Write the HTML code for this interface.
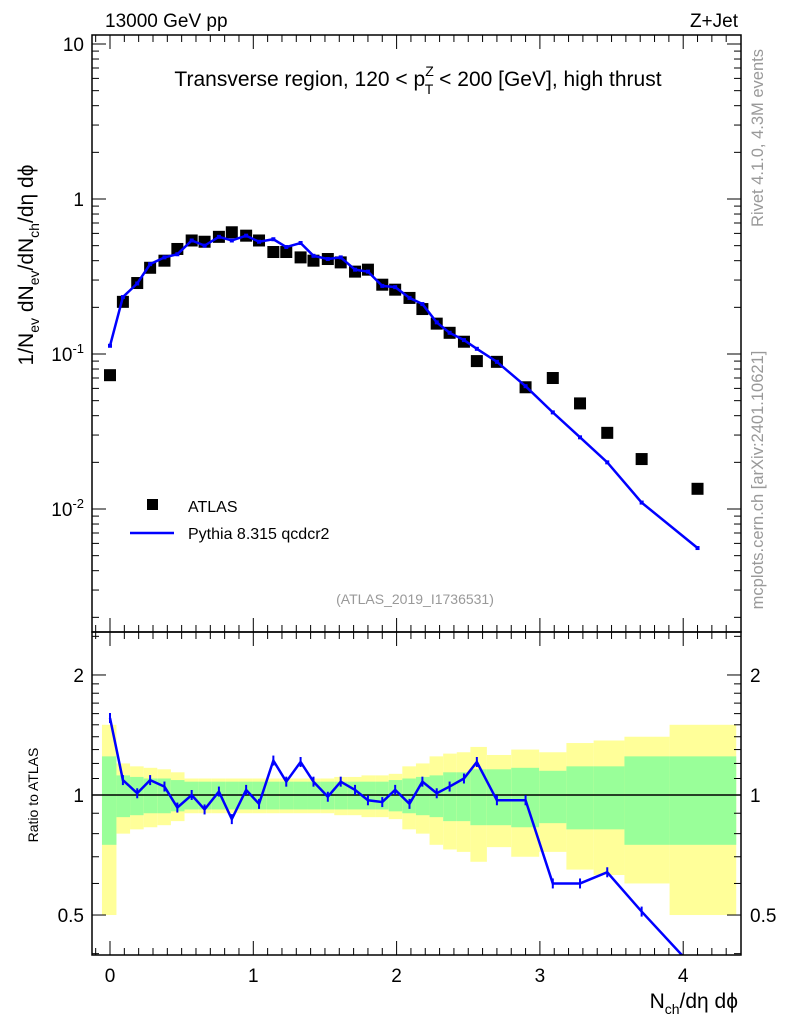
<!DOCTYPE html>
<html><head><meta charset="utf-8"><style>
body{margin:0;background:#fff;}
svg{display:block;font-family:"Liberation Sans",sans-serif;}
</style></head><body>
<svg id="c" width="786" height="1024" viewBox="0 0 786 1024">
<text x="105" y="27" font-size="19">13000 GeV pp</text>
<text x="738" y="27" font-size="19" text-anchor="end">Z+Jet</text>
<text x="418" y="86" font-size="21" text-anchor="middle">Transverse region, 120 &lt; p<tspan font-size="14" dy="-10">Z</tspan><tspan font-size="14" dx="-9" dy="18">T</tspan><tspan dy="-8"> &lt; 200 [GeV], high thrust</tspan></text>
<text transform="translate(763,138) rotate(-90)" font-size="16.5" fill="#999" text-anchor="middle">Rivet 4.1.0, 4.3M events</text>
<text transform="translate(763,480) rotate(-90)" font-size="16.5" fill="#999" text-anchor="middle">mcplots.cern.ch [arXiv:2401.10621]</text>
<text x="415" y="604" font-size="14" fill="#999" text-anchor="middle">(ATLAS_2019_I1736531)</text>
<text transform="translate(33,265) rotate(-90)" font-size="21" text-anchor="middle">1/N<tspan font-size="14" dy="6">ev</tspan><tspan dy="-6"> dN</tspan><tspan font-size="14" dy="6">ev</tspan><tspan dy="-6">/dN</tspan><tspan font-size="14" dy="6">ch</tspan><tspan dy="-6">/dη dϕ</tspan></text>
<text transform="translate(38,795) rotate(-90)" font-size="14" text-anchor="middle">Ratio to ATLAS</text>
<text x="738" y="1008" font-size="21" text-anchor="end">N<tspan font-size="14" dy="6">ch</tspan><tspan dy="-6">/dη dϕ</tspan></text>
<g id="bands"></g><g id="marks"></g><g id="axes"></g>
<g>
<rect x="147" y="499" width="11" height="11" fill="#000"/>
<text x="188" y="512" font-size="16">ATLAS</text>
<line x1="130" y1="533" x2="174" y2="533" stroke="#00f" stroke-width="2.5"/>
<text x="188" y="539" font-size="16">Pythia 8.315 qcdcr2</text>
</g>
</svg>
<script>
const xs=[0,0.09,0.19,0.28,0.38,0.47,0.57,0.66,0.76,0.85,0.95,1.04,1.14,1.23,1.33,1.42,1.52,1.61,1.71,1.80,1.90,1.99,2.09,2.18,2.28,2.37,2.47,2.56,2.70,2.90,3.09,3.28,3.47,3.71,4.10];
const atlas=[0.073,0.217,0.287,0.36,0.40,0.476,0.54,0.53,0.57,0.61,0.58,0.54,0.455,0.455,0.42,0.40,0.41,0.39,0.34,0.35,0.28,0.26,0.23,0.195,0.157,0.137,0.12,0.09,0.089,0.061,0.07,0.048,0.031,0.021,0.0135];
const pythia=[0.113,0.233,0.285,0.38,0.42,0.44,0.54,0.50,0.57,0.54,0.58,0.53,0.55,0.49,0.52,0.43,0.41,0.42,0.35,0.34,0.275,0.27,0.23,0.21,0.16,0.137,0.123,0.108,0.089,0.062,0.042,0.029,0.020,0.011,0.0056];
const ratio=[1.56,1.09,1.01,1.09,1.05,0.93,1.0,0.92,1.02,0.87,1.03,0.95,1.22,1.08,1.21,1.08,0.99,1.08,1.03,0.97,0.96,1.03,0.95,1.08,1.01,1.05,1.10,1.21,0.97,0.97,0.60,0.60,0.64,0.51,0.36];
const greenErr=[0.25,0.12,0.11,0.1,0.1,0.09,0.08,0.08,0.08,0.08,0.08,0.08,0.08,0.08,0.08,0.08,0.08,0.08,0.08,0.08,0.08,0.09,0.1,0.11,0.12,0.14,0.14,0.16,0.16,0.17,0.15,0.18,0.18,0.25,0.25];
const yellowErr=[0.5,0.2,0.18,0.17,0.16,0.14,0.1,0.1,0.1,0.1,0.1,0.1,0.1,0.1,0.1,0.1,0.1,0.11,0.11,0.12,0.12,0.13,0.18,0.2,0.25,0.27,0.28,0.32,0.26,0.3,0.28,0.35,0.37,0.4,0.5];
const NS='http://www.w3.org/2000/svg';
const L=92,R=741,T=35,MB=632,RB=955;
const X=v=>110+143.3*v;
const Y=v=>199-155*Math.log10(v);
const RY=v=>795-398.7*Math.log10(v);
function mk(p,tag,a){const e=document.createElementNS(NS,tag);for(const k in a)e.setAttribute(k,a[k]);p.appendChild(e);return e;}
const bands=document.getElementById('bands'),marks=document.getElementById('marks'),axes=document.getElementById('axes');
const clip=mk(document.getElementById('c'),'clipPath',{id:'rc'});mk(clip,'rect',{x:L,y:MB,width:R-L,height:RB-MB});
bands.setAttribute('clip-path','url(#rc)');
const edges=[];for(let i=0;i<=xs.length;i++){if(i==0)edges.push(-0.056);else if(i==xs.length)edges.push(4.37);else edges.push((xs[i-1]+xs[i])/2);}
for(let i=0;i<xs.length;i++){
 const x1=X(edges[i]),x2=X(edges[i+1]);
 const y=mk(bands,'rect',{x:x1,y:RY(1+yellowErr[i]),width:x2-x1,height:RY(1-yellowErr[i])-RY(1+yellowErr[i]),fill:'#ffff99'});
 
 
 const g=mk(bands,'rect',{x:x1,y:RY(1+greenErr[i]),width:x2-x1,height:RY(1-greenErr[i])-RY(1+greenErr[i]),fill:'#99ff99'});
 
 
}
const one=mk(bands,'line',{x1:L,x2:R,y1:RY(1),y2:RY(1),stroke:'#000','stroke-width':1.5});


for(let i=0;i<xs.length;i++){
 const r=mk(marks,'rect',{x:X(xs[i])-6,y:Y(atlas[i])-6,width:12,height:12,fill:'#000'});
 
 
}
const pl=mk(marks,'polyline',{points:xs.map((v,i)=>X(v)+','+Y(pythia[i])).join(' '),fill:'none',stroke:'#00f','stroke-width':2.5});


for(let i=0;i<xs.length;i++){const m=mk(marks,'rect',{x:X(xs[i])-2,y:Y(pythia[i])-2,width:4,height:4,fill:'#00f'});
 
 }
const rl=mk(marks,'polyline',{points:xs.map((v,i)=>X(v)+','+RY(ratio[i])).join(' '),fill:'none',stroke:'#00f','stroke-width':2.5,'clip-path':'url(#rc)'});


for(let i=0;i<xs.length;i++){if(RY(ratio[i])>RB)continue;const m=mk(marks,'line',{x1:X(xs[i]),x2:X(xs[i]),y1:RY(ratio[i])-5,y2:RY(ratio[i])+5,stroke:'#00f','stroke-width':2});
 
 }
for(const [t,b,n] of [[T,MB,'main-frame'],[MB,RB,'ratio-frame']]){const f=mk(axes,'rect',{x:L,y:t,width:R-L,height:b-t,fill:'none',stroke:'#000','stroke-width':1.5});
 
 }
for(let k=-1;k<=43;k++){const v=k/10;const x=X(v);if(x<L||x>R)continue;const big=k%10==0;const len=big?14:7;
 for(const [t,b] of [[T,MB],[MB,RB]]){mk(axes,'line',{x1:x,x2:x,y1:b,y2:b-len,stroke:'#000'});mk(axes,'line',{x1:x,x2:x,y1:t,y2:t+len,stroke:'#000'});}
 if(big){const tx=mk(axes,'text',{x:x,y:RB+27,'font-size':19,'text-anchor':'middle'});tx.textContent=String(v);
 
 }}
for(let d=-3;d<=1;d++){for(let m=1;m<=9;m++){const v=m*Math.pow(10,d);const y=Y(v);if(y<T||y>MB)continue;const len=m==1?14:7;
 mk(axes,'line',{x1:L,x2:L+len,y1:y,y2:y,stroke:'#000'});mk(axes,'line',{x1:R,x2:R-len,y1:y,y2:y,stroke:'#000'});}}
const ylab=[['10',10],['1',1]];
for(const [s,v] of ylab){const t=mk(axes,'text',{x:84,y:Y(v)+7,'font-size':19,'text-anchor':'end'});t.textContent=s;
 
 }
for(const [e,v] of [['-1',0.1],['-2',0.01]]){const t=mk(axes,'text',{x:84,y:Y(v)+7,'font-size':19,'text-anchor':'end'});
 t.innerHTML='10<tspan font-size="13" dy="-8">'+e+'</tspan>';
 
 }
const rt=[0.4,0.5,0.6,0.7,0.8,0.9,1,1.1,1.2,1.3,1.4,1.5,1.6,1.7,1.8,1.9,2,2.5];
for(const v of rt){const y=RY(v);if(y<MB||y>RB)continue;const big=(v==0.5||v==1||v==2);const len=big?14:7;
 mk(axes,'line',{x1:L,x2:L+len,y1:y,y2:y,stroke:'#000'});mk(axes,'line',{x1:R,x2:R-len,y1:y,y2:y,stroke:'#000'});
 if(big){for(const [xx,an] of [[84,'end'],[750,'start']]){const t=mk(axes,'text',{x:xx,y:y+7,'font-size':19,'text-anchor':an});t.textContent=String(v);
 
 }}}
</script>
</body></html>
